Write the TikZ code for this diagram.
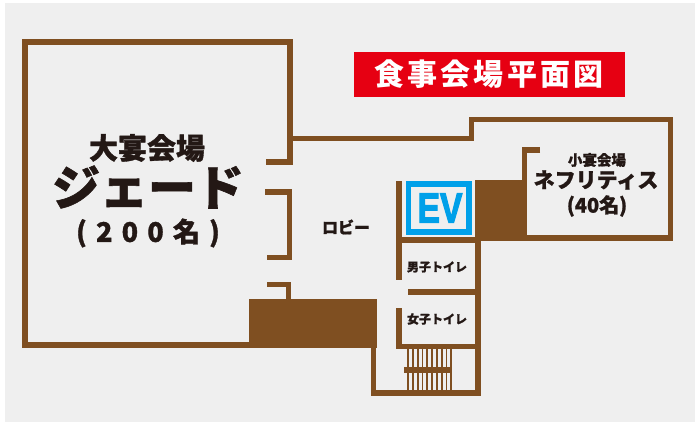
\documentclass[tikz,border=0pt]{standalone}
\usepackage{fontspec}
\setmainfont{Liberation Sans}[BoldFeatures={FakeBold=3}]
\newfontfamily\jpfont{Noto Sans CJK JP}[BoldFeatures={FakeBold=1.2}]
\newfontfamily\jptitle{Noto Sans CJK JP}[LetterSpace=11,BoldFeatures={LetterSpace=11}]
\newfontfamily\jpseats{Noto Sans CJK JP}[LetterSpace=34,BoldFeatures={LetterSpace=34,FakeBold=1.2}]
\definecolor{wallbrown}{HTML}{7F4F21}
\definecolor{floorgray}{HTML}{EFEFEF}
\definecolor{titlered}{HTML}{E60012}
\definecolor{evblue}{HTML}{00A0E9}
\definecolor{labelink}{HTML}{231815}
\tikzset{
  wall/.style={draw=wallbrown,line width=5.5pt,line cap=butt,line join=miter},
  roomlabel/.style={text=labelink,font=\jpfont\bfseries,inner sep=0pt}
}
\begin{document}
\begin{tikzpicture}[x=1pt,y=-1pt]
    \useasboundingbox (0,0) rectangle (699,428);
    % Draw floor
    \fill[floorgray] (5,3) rectangle (695,422);
    \fill[titlered] (354,52) rectangle (625,97);

    % Draw big hall
    \draw[wall] (266,162) -- (290,162) -- (290,42) -- (25,42) -- (25,345) -- (250,345);
    \draw[wall] (265,192) -- (289.5,192) -- (289.5,257.5) -- (267,257.5);
    \draw[wall] (267,284.5) -- (288.5,284.5) -- (288.5,300);
    \fill[wallbrown] (249,299) rectangle (377,348);

    % Draw small hall
    \draw[wall] (290,138.5) -- (471.5,138.5) -- (471.5,119.5) -- (670.5,119.5) -- (670.5,238) -- (500,238);
    \draw[wall] (540,150) -- (524.5,150) -- (524.5,181);
    \fill[wallbrown] (477,180) rectangle (527,241);

    % Draw toilets
    \draw[wall] (399,181) -- (399,280);
    \draw[wall] (399,308) -- (399,346.5) -- (478,346.5);
    \draw[wall] (399,240) -- (478,240);
    \draw[wall] (408,292) -- (478,292);
    \draw[wall] (478,180) -- (478,393) -- (373.5,393) -- (373.5,345);

    % Draw stairs
    \foreach \i in {0,...,9} {
        \draw[wallbrown,line width=1.8pt] (408+\i*4.8,349) -- (408+\i*4.8,390);
    }
    \fill[wallbrown] (404,367) rectangle (452,373);

    % Draw elevator
    \draw[evblue,line width=5.5pt] (408.5,184) rectangle (469,232);
    \node[text=evblue,font=\bfseries\fontsize{42}{42}\selectfont,inner sep=0pt] (ev) at (440,208) {\scalebox{0.8}[1]{EV}};

    % Draw labels
    \node[text=white,font=\jptitle\bfseries\fontsize{30}{30}\selectfont,inner sep=0pt] (title) at (489,74) {食事会場平面図};
    \node[roomlabel,font=\jpfont\bfseries\fontsize{29}{29}\selectfont] (bighall) at (147,148) {大宴会場};
    \node[roomlabel,font=\jpfont\bfseries\fontsize{48}{48}\selectfont] (jade) at (148,187) {ジェード};
    \node[roomlabel,font=\jpseats\bfseries\fontsize{27}{27}\selectfont] (bigseats) at (148,233) {(200名)};
    \node[roomlabel,font=\jpfont\bfseries\fontsize{14.5}{14.5}\selectfont] (smallhall) at (597,160) {小宴会場};
    \node[roomlabel,font=\jpfont\bfseries\fontsize{21}{21}\selectfont] (nephrite) at (596,180) {ネフリティス};
    \node[roomlabel,font=\jpfont\bfseries\fontsize{20}{20}\selectfont] (smallseats) at (597,206) {(40名)};
    \node[roomlabel,font=\jpfont\bfseries\fontsize{16}{16}\selectfont] (lobby) at (346,227) {ロビー};
    \node[roomlabel,font=\jpfont\bfseries\fontsize{12}{12}\selectfont] (mens) at (437,267) {男子トイレ};
    \node[roomlabel,font=\jpfont\bfseries\fontsize{12}{12}\selectfont] (womens) at (437,319) {女子トイレ};
\end{tikzpicture}
\end{document}
